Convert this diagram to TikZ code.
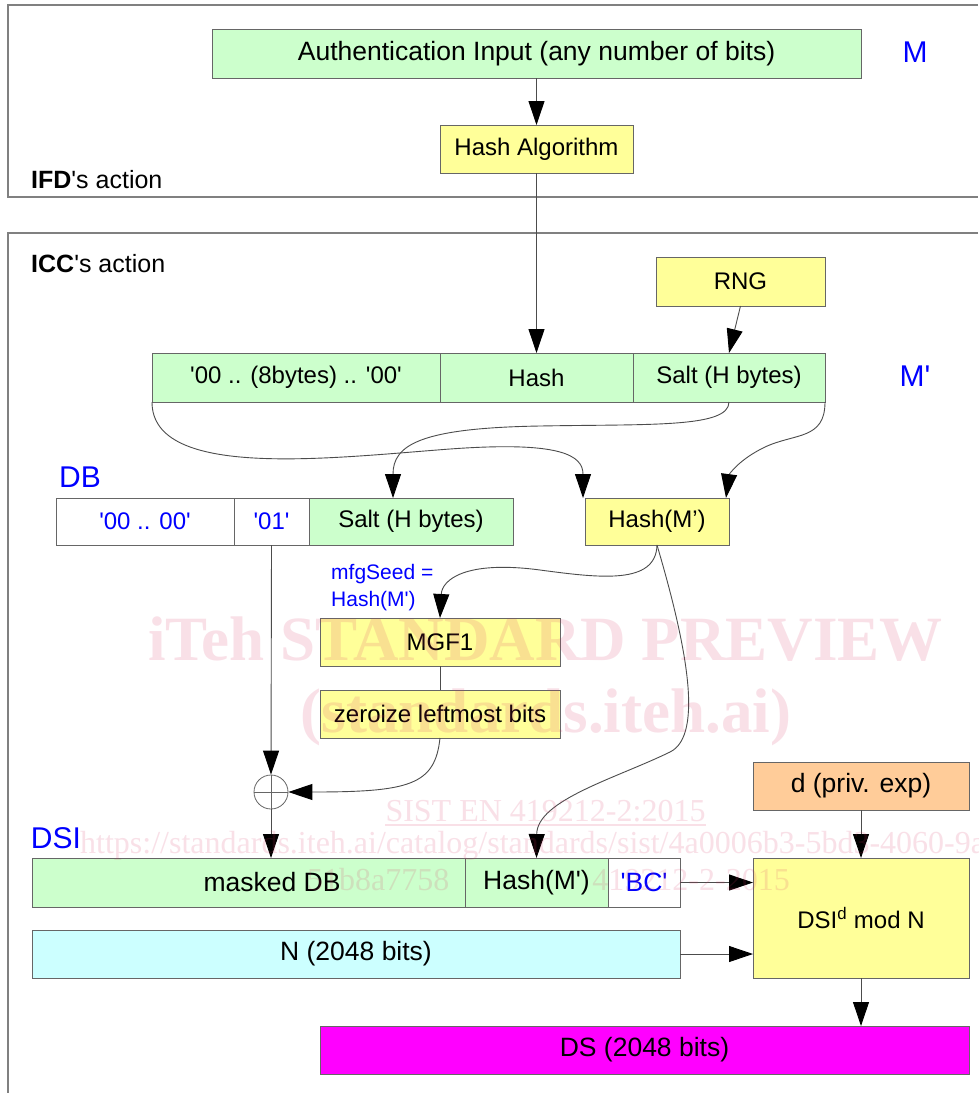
\documentclass[tikz,border=0pt]{standalone}
\usepackage{fontspec}
\newfontfamily\arialf{Liberation Sans}
\newfontfamily\wmserif{Liberation Serif}
\usetikzlibrary{arrows.meta,shadows}
\definecolor{cgreen}{HTML}{CCFFCC}
\definecolor{cyellow}{HTML}{FFFF99}
\definecolor{corange}{HTML}{FFCC99}
\definecolor{ccyan}{HTML}{CCFFFF}
\definecolor{cmagenta}{HTML}{FF00FF}
\definecolor{cblue}{HTML}{0000FF}
\definecolor{wmcol}{RGB}{215,50,100}
\newcommand\myfa{\arialf\fontsize{24}{28}\selectfont}
\newcommand\myfb{\arialf\fontsize{26.5}{30}\selectfont}
\newcommand\myfl{\arialf\fontsize{30}{34}\selectfont}
\newcommand\myfs{\arialf\fontsize{21}{27}\selectfont}
\newcommand\myfh{\arialf\fontsize{25}{29}\selectfont}
\begin{document}
\begin{tikzpicture}[x=1pt,y=-1pt,
  box/.style={draw=black!60, line width=0.8pt, inner sep=0pt, outer sep=0pt,
    font=\myfa, general shadow={fill=black!25, shadow xshift=1pt, shadow yshift=-1.2pt}},
  boxb/.style={box, font=\myfb},
  lab/.style={text=cblue, font=\myfl, inner sep=0pt},
  conn/.style={draw=black!70, line width=0.9pt},
  arr/.style={conn, -{Triangle[length=24pt,width=16pt,color=black,fill=black]}},
  frame/.style={draw=black!50, line width=1.2pt},
  wm/.style={text=wmcol, text opacity=0.15, inner sep=0pt},
]
\clip (0,0) rectangle (978,1093);
\fill[white] (0,0) rectangle (978,1093);

% frames
\draw[frame] (978,5) -- (8,5) -- (8,197) -- (978,197);
\draw[frame] (978,233) -- (8,233) -- (8,1093);

% IFD part
\node[box, fill=cgreen, minimum width=649, minimum height=49, font=\myfb] (auth) at (536.5,53.5) {Authentication Input (any number of bits)};
\node[lab] (labM) at (915,52.5) {M};
\node[box, fill=cyellow, minimum width=193, minimum height=48] (hashalg) at (536.5,149) {Hash Algorithm};
\node[font=\myfh, inner sep=0pt, anchor=base west] (ifd) at (31,188) {\textbf{IFD}'s action};

% ICC part
\node[font=\myfh, inner sep=0pt, anchor=base west] (icc) at (31,272) {\textbf{ICC}'s action};
\node[box, fill=cyellow, minimum width=169, minimum height=49] (rng) at (740.5,281.5) {RNG};
\node[box, fill=cgreen, minimum width=288, minimum height=49] (m1) at (296,377.5) {'00 .. (8bytes) .. '00'};
\node[box, fill=cgreen, minimum width=193, minimum height=49] (m2) at (536.5,377.5) {Hash};
\node[box, fill=cgreen, minimum width=192, minimum height=49] (m3) at (729,377.5) {Salt (H bytes)};
\node[lab] (labMp) at (915,376) {M'};

\node[lab] (labDB) at (80,477.5) {DB};
\node[box, fill=white, minimum width=178, minimum height=47, text=cblue] (db1) at (145,521.5) {'00 .. 00'};
\node[box, fill=white, minimum width=75, minimum height=47, text=cblue] (db2) at (271.5,521.5) {'01'};
\node[box, fill=cgreen, minimum width=204, minimum height=47] (db3) at (411,521.5) {Salt (H bytes)};
\node[box, fill=cyellow, minimum width=144, minimum height=47] (hm) at (657,521.5) {Hash(M’)};

\node[text=cblue, font=\myfs, inner sep=0pt, anchor=north west, align=left] (seed) at (331,564) {mfgSeed =\\Hash(M')};
\node[box, fill=cyellow, minimum width=240, minimum height=48] (mgf) at (440,642) {MGF1};
\node[box, fill=cyellow, minimum width=240, minimum height=48] (zero) at (440,714) {zeroize leftmost bits};
\node[circle, draw=black!60, line width=0.8pt, minimum size=34pt, inner sep=0pt] (xor) at (271,792) {};
\draw[draw=black!60, line width=0.8pt] (xor.west) -- (xor.east) (xor.north) -- (xor.south);

\node[boxb, fill=corange, minimum width=216, minimum height=48] (dbox) at (861,786) {d (priv. exp)};
\node[lab] (labDSI) at (56,838) {DSI};
\node[boxb, fill=cgreen, minimum width=433, minimum height=49] (s1) at (248.5,882.5) {};
\node[font=\myfb, inner sep=0pt] (s1t) at (272,882.5) {masked DB};
\node[boxb, fill=cgreen, minimum width=143, minimum height=49] (s2) at (536.5,882.5) {Hash(M')};
\node[boxb, fill=white, minimum width=72, minimum height=49, text=cblue] (s3) at (644,882.5) {'BC'};
\node[boxb, fill=ccyan, minimum width=648, minimum height=48] (nbox) at (356,954) {N (2048 bits)};
\node[box, fill=cyellow, minimum width=216, minimum height=120] (dsid) at (861,918) {DSI\textsuperscript{d} mod N};
\node[boxb, fill=cmagenta, minimum width=649, minimum height=48] (ds) at (644.5,1050) {DS (2048 bits)};

% connectors
\draw[arr] (auth.south) -- (hashalg.north);
\draw[arr] (hashalg.south) -- (m2.north);
\draw[arr] (rng.south) -- (m3.north);
\draw[arr] (m1.south west) .. controls (152,480) and (330,458) .. (450,449) .. controls (560,441) and (583,455) .. ([xshift=-2pt]hm.north west);
\draw[arr] (m3.south) .. controls (729,428) and (650,424) .. (540,426) .. controls (420,428) and (393,445) .. ([xshift=-18pt]db3.north);
\draw[arr] (m3.south east) .. controls (825,440) and (795,433) .. (765,447) .. controls (738,460) and (729,475) .. ([xshift=-3pt]hm.north east);
\draw[arr] (hm.south) .. controls (656,585) and (600,578) .. (540,570) .. controls (465,560) and (442,580) .. (mgf.north);
\draw[arr] (hm.south) .. controls (685,640) and (705,735) .. (670,752) .. controls (617,778) and (537,800) .. (s2.north);
\draw[conn] (mgf.south) -- (zero.north);
\draw[arr] (zero.south) .. controls (435,785) and (410,792) .. (xor.east);
\draw[arr] (db2.south) -- (xor.north);
\draw[arr] (xor.south) -- (xor.south |- s1.north);
\draw[arr] (s3.east) -- (s3.east -| dsid.west);
\draw[arr] (nbox.east) -- (nbox.east -| dsid.west);
\draw[arr] (dbox.south) -- (dsid.north);
\draw[arr] (dsid.south) -- (dsid.south |- ds.north);

% watermark
\node[wm, anchor=base, font=\wmserif\bfseries\fontsize{63}{70}\selectfont] (wm1) at (545.5,660) {iTeh STANDARD PREVIEW};
\node[wm, anchor=base, font=\wmserif\bfseries\fontsize{63}{70}\selectfont] (wm2) at (546,732) {(standards.iteh.ai)};
\node[wm, anchor=base, font=\wmserif\fontsize{32}{36}\selectfont] (wm3) at (545.5,821) {SIST EN 419212-2:2015};
\draw[draw=wmcol, draw opacity=0.15, line width=1.5pt] ([yshift=-4pt]wm3.base west) -- ([yshift=-4pt]wm3.base east);
\node[wm, anchor=base west, font=\wmserif\fontsize{32}{36}\selectfont] (wm4) at (80,853) {https://standards.iteh.ai/catalog/standards/sist/4a0006b3-5bd3-4060-9a};
\node[wm, anchor=base west, font=\wmserif\fontsize{32}{36}\selectfont] (wm5) at (307,890) {51b8a7758};
\node[wm, anchor=base east, font=\wmserif\fontsize{32}{36}\selectfont] (wm6) at (790,890) {419212-2-2015};
\end{tikzpicture}
\end{document}
